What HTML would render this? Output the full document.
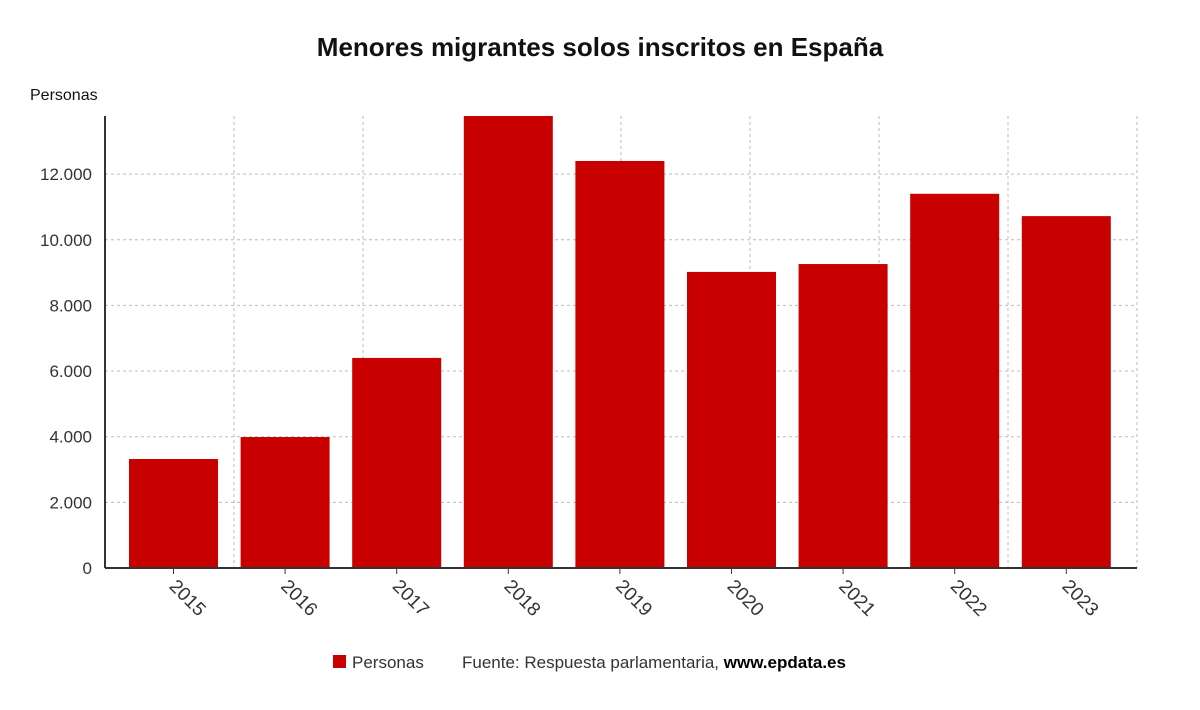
<!DOCTYPE html>
<html><head><meta charset="utf-8"><style>
body{margin:0;background:#fff;font-family:"Liberation Sans",sans-serif;}
</style></head><body>
<svg width="1200" height="705" xmlns="http://www.w3.org/2000/svg" font-family="Liberation Sans, sans-serif">
<text x="600" y="56" text-anchor="middle" font-size="26" font-weight="bold" fill="#111">Menores migrantes solos inscritos en España</text>
<text x="30" y="100" font-size="16" fill="#111">Personas</text>
<g id="grid"></g><g id="bars"></g><g id="axes"></g>
<g>
<rect x="333" y="655" width="13" height="13" fill="#c80000"/>
<text x="352" y="668" font-size="17" fill="#333">Personas</text>
<text x="462" y="668" font-size="17" fill="#333">Fuente: Respuesta parlamentaria, <tspan fill="#000" font-weight="bold">www.epdata.es</tspan></text>
</g>
</svg>
<script>
const categories=["2015","2016","2017","2018","2019","2020","2021","2022","2023"];
const values=[3320,3990,6400,13770,12400,9020,9260,11400,10720];
const yTicks=[0,2000,4000,6000,8000,10000,12000];
const yTickLabels=["0","2.000","4.000","6.000","8.000","10.000","12.000"];
const NS="http://www.w3.org/2000/svg";
const x0=105,x1=1137,yBase=568,yTop=116,yMax=13770;
const y=v=>yBase-(v/yMax)*(yBase-yTop);
const step=111.6,first=173.5,bw=89;
const xc=i=>first+i*step;
function mk(t,a,p){const e=document.createElementNS(NS,t);for(const k in a)e.setAttribute(k,a[k]);p.appendChild(e);return e;}
const grid=document.getElementById('grid'),bars=document.getElementById('bars'),axes=document.getElementById('axes');
for(let i=1;i<=8;i++){const gx=x0+i*129;const l=mk('line',{x1:gx,x2:gx,y1:yTop,y2:yBase,stroke:'#bbb','stroke-dasharray':'3,3'},grid);

}
yTicks.forEach((t,i)=>{const yy=y(t);
if(t>0){const l=mk('line',{x1:x0,x2:x1,y1:yy,y2:yy,stroke:'#bbb','stroke-dasharray':'3,3'},grid);

}
const tx=mk('text',{x:92,y:yy+6,'text-anchor':'end','font-size':17,fill:'#333'},axes);tx.textContent=yTickLabels[i];

});
categories.forEach((c,i)=>{const r=mk('rect',{x:xc(i)-bw/2,y:y(values[i]),width:bw,height:yBase-y(values[i]),fill:'#c80000'},bars);


const cx=xc(i)+14,cy=604;const t=mk('text',{x:cx,y:cy,'text-anchor':'middle','font-size':19,fill:'#333',transform:`rotate(45 ${cx} ${cy-6})`},axes);t.textContent=c;


const tk=mk('line',{x1:xc(i),x2:xc(i),y1:yBase,y2:yBase+6,stroke:'#333'},axes);

});
const ya=mk('line',{x1:x0,x2:x0,y1:yTop,y2:yBase,stroke:'#333','stroke-width':2},axes);


const xa=mk('line',{x1:x0,x2:x1,y1:yBase,y2:yBase,stroke:'#333','stroke-width':2},axes);


</script>
</body></html>
